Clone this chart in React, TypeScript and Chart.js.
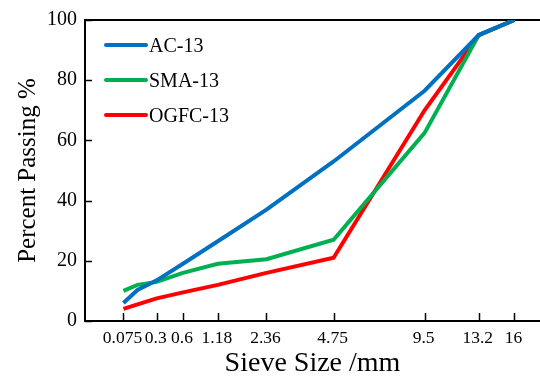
import React, { useEffect, useRef } from "react";
import { Chart, registerables } from "chart.js";

Chart.register(...registerables);

const sieveSizes = [0.075, 0.15, 0.3, 0.6, 1.18, 2.36, 4.75, 9.5, 13.2, 16];
const tickSizes = [0.075, 0.3, 0.6, 1.18, 2.36, 4.75, 9.5, 13.2, 16];
const yTicks = [0, 20, 40, 60, 80, 100];
const ac13 = [6, 10.3, 13.5, 19, 26.5, 37, 53, 76.5, 95, 100];
const sma13 = [10, 12, 13, 16, 19, 20.5, 27, 62.5, 95, 100];
const ogfc13 = [4, 5.5, 7.5, 9.5, 12, 16, 21, 70, 95, 100];

const POWER = 0.45;
const tx = (d: number) => Math.pow(d, POWER);
const FONT = "'Liberation Serif', 'Times New Roman', serif";

const seriesDefs = [
  { label: "AC-13", data: ac13, color: "#0070C0" },
  { label: "SMA-13", data: sma13, color: "#00B050" },
  { label: "OGFC-13", data: ogfc13, color: "#FF0000" },
];

const framePlugin = {
  id: "frame",
  beforeDatasetsDraw(chart: any) {
    const { ctx, chartArea, scales } = chart;
    const { left, right, top, bottom } = chartArea;
    ctx.save();
    ctx.strokeStyle = "#000";
    ctx.lineWidth = 2;
    ctx.beginPath();
    ctx.moveTo(left, top);
    ctx.lineTo(right, top);
    ctx.moveTo(left, top - 1);
    ctx.lineTo(left, bottom);
    ctx.lineTo(right, bottom);
    ctx.stroke();
    ctx.lineWidth = 1.5;
    ctx.beginPath();
    tickSizes.forEach((d) => {
      const x = Math.round(scales.x.getPixelForValue(tx(d))) + 0.5;
      ctx.moveTo(x, bottom);
      ctx.lineTo(x, bottom - 8);
    });
    yTicks.forEach((v) => {
      const y = Math.round(scales.y.getPixelForValue(v)) + 0.5;
      ctx.moveTo(left, y);
      ctx.lineTo(left + 7, y);
    });
    ctx.stroke();
    ctx.restore();
  },
  afterDraw(chart: any) {
    const { ctx } = chart;
    ctx.save();
    chart.data.datasets.forEach((ds: any, i: number) => {
      const y = 45 + i * 35;
      ctx.strokeStyle = ds.borderColor;
      ctx.lineWidth = 4;
      ctx.lineCap = "round";
      ctx.beginPath();
      ctx.moveTo(106, y);
      ctx.lineTo(146, y);
      ctx.stroke();
      ctx.fillStyle = "#000";
      ctx.font = `20px ${FONT}`;
      ctx.textBaseline = "middle";
      ctx.textAlign = "left";
      ctx.fillText(ds.label, 149, y + 1.5);
    });
    ctx.restore();
  },
};

export default function App() {
  const canvasRef = useRef<HTMLCanvasElement | null>(null);

  useEffect(() => {
    if (!canvasRef.current) return;
    const chart = new Chart(canvasRef.current, {
      type: "line",
      data: {
        datasets: seriesDefs.map((s) => ({
          label: s.label,
          data: sieveSizes.map((d, i) => ({ x: tx(d), y: s.data[i] })),
          borderColor: s.color,
          backgroundColor: s.color,
          borderWidth: 4,
          pointRadius: 0,
          tension: 0,
          fill: false,
        })),
      },
      options: {
        responsive: false,
        animation: false,
        layout: { padding: { top: 20, right: 0, left: 0, bottom: 0 } },
        plugins: { legend: { display: false }, tooltip: { enabled: false } },
        scales: {
          x: {
            type: "linear",
            min: 0,
            max: 3.69,
            afterBuildTicks: (scale: any) => {
              scale.ticks = tickSizes.map((d) => ({ value: tx(d) }));
            },
            afterFit: (scale: any) => {
              scale.height = 57;
            },
            grid: { display: false, drawTicks: false },
            border: { display: false },
            ticks: {
              autoSkip: false,
              maxRotation: 0,
              padding: 7,
              labelOffset: -1,
              color: "#000",
              font: { family: FONT, size: 17.5 },
              callback: (_v: any, i: number) => String(tickSizes[i]),
            },
            title: {
              display: true,
              text: "Sieve Size /mm",
              color: "#000",
              font: { family: FONT, size: 28, lineHeight: 1 },
              padding: { top: 0, bottom: 0 },
            },
          },
          y: {
            min: 0,
            max: 100,
            afterBuildTicks: (scale: any) => {
              scale.ticks = yTicks.map((v) => ({ value: v }));
            },
            afterFit: (scale: any) => {
              scale.width = 85;
            },
            grid: { display: false, drawTicks: false },
            border: { display: false },
            ticks: {
              padding: 8,
              color: "#000",
              font: { family: FONT, size: 20 },
            },
            title: {
              display: true,
              text: "Percent Passing %",
              color: "#000",
              font: { family: FONT, size: 25, lineHeight: 1 },
              padding: { top: 16, bottom: 0 },
            },
          },
        },
      },
      plugins: [framePlugin],
    });
    return () => chart.destroy();
  }, []);

  return (
    <div style={{ position: "fixed", left: 0, top: 0, width: 540, height: 378, background: "#fff" }}>
      <canvas ref={canvasRef} width={540} height={378} style={{ width: 540, height: 378 }} />
    </div>
  );
}
